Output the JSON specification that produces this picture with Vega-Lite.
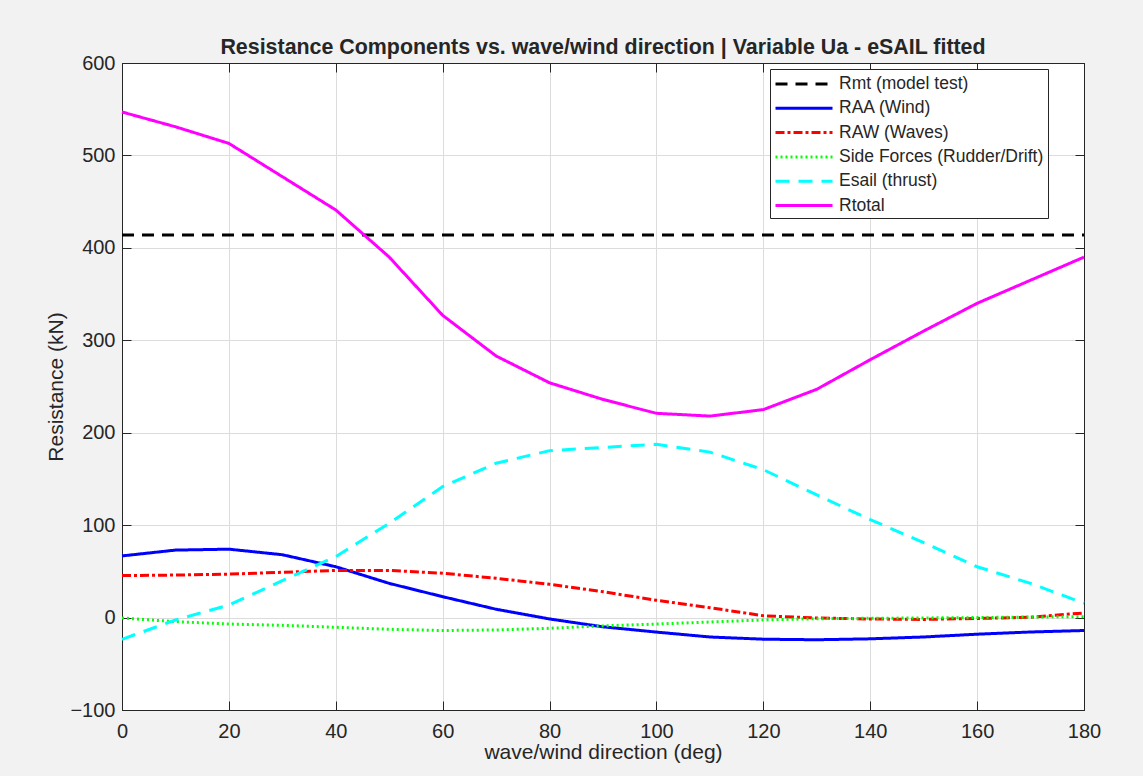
{
  "$schema": "https://vega.github.io/schema/vega-lite/v6.json",
  "width": 962,
  "height": 647,
  "autosize": {"type": "none"},
  "padding": {"left": 122, "top": 63, "right": 59, "bottom": 66},
  "background": "#f2f2f2",
  "title": {
    "text": "Resistance Components vs. wave/wind direction | Variable Ua - eSAIL fitted",
    "font": "Liberation Sans",
    "fontSize": 21.4,
    "fontWeight": "bold",
    "color": "#262626",
    "anchor": "middle",
    "offset": -5
  },
  "config": {
    "view": {"stroke": "#262626", "strokeWidth": 1, "fill": "white"},
    "axis": {
      "labelFont": "Liberation Sans",
      "titleFont": "Liberation Sans",
      "labelFontSize": 20,
      "titleFontSize": 21,
      "titleFontWeight": "normal",
      "labelColor": "#262626",
      "titleColor": "#262626",
      "domainColor": "#262626",
      "tickColor": "#262626",
      "tickSize": -9,
      "gridColor": "#dcdcdc",
      "gridWidth": 1,
      "labelFlush": false,
      "labelOverlap": false
    },
    "legend": {
      "labelFont": "Liberation Sans",
      "labelFontSize": 17.5,
      "labelColor": "#262626",
      "labelLimit": 400
    }
  },
  "data": {
    "values": [
      {"dir": 0, "series": "Rmt  (model test)", "value": 414},
      {"dir": 180, "series": "Rmt  (model test)", "value": 414},
      {"dir": 0, "series": "RAA  (Wind)", "value": 66.7},
      {"dir": 10, "series": "RAA  (Wind)", "value": 73},
      {"dir": 20, "series": "RAA  (Wind)", "value": 74},
      {"dir": 30, "series": "RAA  (Wind)", "value": 68},
      {"dir": 40, "series": "RAA  (Wind)", "value": 55},
      {"dir": 50, "series": "RAA  (Wind)", "value": 37},
      {"dir": 60, "series": "RAA  (Wind)", "value": 22.6},
      {"dir": 70, "series": "RAA  (Wind)", "value": 9},
      {"dir": 80, "series": "RAA  (Wind)", "value": -1.5},
      {"dir": 90, "series": "RAA  (Wind)", "value": -10},
      {"dir": 100, "series": "RAA  (Wind)", "value": -15.7},
      {"dir": 110, "series": "RAA  (Wind)", "value": -21},
      {"dir": 120, "series": "RAA  (Wind)", "value": -23.4},
      {"dir": 130, "series": "RAA  (Wind)", "value": -24},
      {"dir": 140, "series": "RAA  (Wind)", "value": -23},
      {"dir": 150, "series": "RAA  (Wind)", "value": -21},
      {"dir": 160, "series": "RAA  (Wind)", "value": -18},
      {"dir": 170, "series": "RAA  (Wind)", "value": -15.6},
      {"dir": 180, "series": "RAA  (Wind)", "value": -14},
      {"dir": 0, "series": "RAW  (Waves)", "value": 45.4},
      {"dir": 10, "series": "RAW  (Waves)", "value": 46},
      {"dir": 20, "series": "RAW  (Waves)", "value": 47},
      {"dir": 30, "series": "RAW  (Waves)", "value": 49},
      {"dir": 40, "series": "RAW  (Waves)", "value": 51},
      {"dir": 50, "series": "RAW  (Waves)", "value": 51},
      {"dir": 60, "series": "RAW  (Waves)", "value": 48},
      {"dir": 70, "series": "RAW  (Waves)", "value": 42.5},
      {"dir": 80, "series": "RAW  (Waves)", "value": 36},
      {"dir": 90, "series": "RAW  (Waves)", "value": 28},
      {"dir": 100, "series": "RAW  (Waves)", "value": 18.7},
      {"dir": 110, "series": "RAW  (Waves)", "value": 10.7},
      {"dir": 120, "series": "RAW  (Waves)", "value": 2},
      {"dir": 130, "series": "RAW  (Waves)", "value": -0.5},
      {"dir": 140, "series": "RAW  (Waves)", "value": -1.5},
      {"dir": 150, "series": "RAW  (Waves)", "value": -2},
      {"dir": 160, "series": "RAW  (Waves)", "value": -1},
      {"dir": 170, "series": "RAW  (Waves)", "value": 0.3},
      {"dir": 180, "series": "RAW  (Waves)", "value": 5},
      {"dir": 0, "series": "Side Forces (Rudder/Drift)", "value": -0.5},
      {"dir": 10, "series": "Side Forces (Rudder/Drift)", "value": -4.4},
      {"dir": 20, "series": "Side Forces (Rudder/Drift)", "value": -7},
      {"dir": 30, "series": "Side Forces (Rudder/Drift)", "value": -8.4},
      {"dir": 40, "series": "Side Forces (Rudder/Drift)", "value": -10.5},
      {"dir": 50, "series": "Side Forces (Rudder/Drift)", "value": -12.7},
      {"dir": 60, "series": "Side Forces (Rudder/Drift)", "value": -14},
      {"dir": 70, "series": "Side Forces (Rudder/Drift)", "value": -13.4},
      {"dir": 80, "series": "Side Forces (Rudder/Drift)", "value": -11.6},
      {"dir": 90, "series": "Side Forces (Rudder/Drift)", "value": -9},
      {"dir": 100, "series": "Side Forces (Rudder/Drift)", "value": -7},
      {"dir": 110, "series": "Side Forces (Rudder/Drift)", "value": -4.8},
      {"dir": 120, "series": "Side Forces (Rudder/Drift)", "value": -2.6},
      {"dir": 130, "series": "Side Forces (Rudder/Drift)", "value": -1.2},
      {"dir": 140, "series": "Side Forces (Rudder/Drift)", "value": -0.8},
      {"dir": 150, "series": "Side Forces (Rudder/Drift)", "value": -0.4},
      {"dir": 160, "series": "Side Forces (Rudder/Drift)", "value": 0},
      {"dir": 170, "series": "Side Forces (Rudder/Drift)", "value": 0.6},
      {"dir": 180, "series": "Side Forces (Rudder/Drift)", "value": 1},
      {"dir": 0, "series": "Esail  (thrust)", "value": -23.5},
      {"dir": 10, "series": "Esail  (thrust)", "value": -2.6},
      {"dir": 20, "series": "Esail  (thrust)", "value": 13.6},
      {"dir": 30, "series": "Esail  (thrust)", "value": 40},
      {"dir": 40, "series": "Esail  (thrust)", "value": 66},
      {"dir": 50, "series": "Esail  (thrust)", "value": 102},
      {"dir": 60, "series": "Esail  (thrust)", "value": 141.7},
      {"dir": 70, "series": "Esail  (thrust)", "value": 167},
      {"dir": 80, "series": "Esail  (thrust)", "value": 180.6},
      {"dir": 90, "series": "Esail  (thrust)", "value": 184},
      {"dir": 100, "series": "Esail  (thrust)", "value": 187.5},
      {"dir": 110, "series": "Esail  (thrust)", "value": 179},
      {"dir": 120, "series": "Esail  (thrust)", "value": 160},
      {"dir": 130, "series": "Esail  (thrust)", "value": 132.7},
      {"dir": 140, "series": "Esail  (thrust)", "value": 106},
      {"dir": 150, "series": "Esail  (thrust)", "value": 81},
      {"dir": 160, "series": "Esail  (thrust)", "value": 55},
      {"dir": 170, "series": "Esail  (thrust)", "value": 37},
      {"dir": 180, "series": "Esail  (thrust)", "value": 15.5},
      {"dir": 0, "series": "Rtotal", "value": 547},
      {"dir": 10, "series": "Rtotal", "value": 531},
      {"dir": 20, "series": "Rtotal", "value": 513},
      {"dir": 30, "series": "Rtotal", "value": 477},
      {"dir": 40, "series": "Rtotal", "value": 441},
      {"dir": 50, "series": "Rtotal", "value": 390},
      {"dir": 60, "series": "Rtotal", "value": 327},
      {"dir": 70, "series": "Rtotal", "value": 283},
      {"dir": 80, "series": "Rtotal", "value": 254},
      {"dir": 90, "series": "Rtotal", "value": 236},
      {"dir": 100, "series": "Rtotal", "value": 221},
      {"dir": 110, "series": "Rtotal", "value": 218},
      {"dir": 120, "series": "Rtotal", "value": 225},
      {"dir": 130, "series": "Rtotal", "value": 247},
      {"dir": 140, "series": "Rtotal", "value": 279},
      {"dir": 150, "series": "Rtotal", "value": 310},
      {"dir": 160, "series": "Rtotal", "value": 340},
      {"dir": 170, "series": "Rtotal", "value": 365},
      {"dir": 180, "series": "Rtotal", "value": 390}
    ]
  },
  "layer": [
    {
      "mark": {"type": "line", "strokeCap": "butt"},
      "encoding": {
        "x": {
          "field": "dir",
          "type": "quantitative",
          "scale": {"domain": [0, 180], "nice": false},
          "axis": {
            "values": [0, 20, 40, 60, 80, 100, 120, 140, 160, 180],
            "title": "wave/wind direction (deg)",
            "labelPadding": 20,
            "titlePadding": 0,
            "grid": true
          }
        },
        "y": {
          "field": "value",
          "type": "quantitative",
          "scale": {"domain": [-100, 600], "nice": false},
          "axis": {
            "values": [-100, 0, 100, 200, 300, 400, 500, 600],
            "title": "Resistance (kN)",
            "labelPadding": 16,
            "titlePadding": 3,
            "grid": true
          }
        },
        "color": {
          "field": "series",
          "type": "nominal",
          "scale": {
            "domain": ["Rmt  (model test)", "RAA  (Wind)", "RAW  (Waves)", "Side Forces (Rudder/Drift)", "Esail  (thrust)", "Rtotal"],
            "range": ["#000000", "#0000ff", "#ff0000", "#00ff00", "#00ffff", "#ff00ff"]
          },
          "legend": {
            "title": null,
            "orient": "none",
            "legendX": 648,
            "legendY": 6,
            "fillColor": "white",
            "strokeColor": "#262626",
            "padding": 4,
            "symbolType": "M-1,0H5",
            "symbolSize": 361,
            "rowPadding": 4.3,
            "labelOffset": 43
          }
        },
        "strokeDash": {
          "field": "series",
          "type": "nominal",
          "scale": {
            "domain": ["Rmt  (model test)", "RAA  (Wind)", "RAW  (Waves)", "Side Forces (Rudder/Drift)", "Esail  (thrust)", "Rtotal"],
            "range": [[12, 8], [1, 0], [9, 3, 3, 3], [2, 3], [14, 9], [1, 0]]
          }
        },
        "strokeWidth": {
          "field": "series",
          "type": "nominal",
          "scale": {
            "domain": ["Rmt  (model test)", "RAA  (Wind)", "RAW  (Waves)", "Side Forces (Rudder/Drift)", "Esail  (thrust)", "Rtotal"],
            "range": [3, 3, 3, 3, 3, 4]
          }
        }
      }
    },
    {
      "mark": {"type": "line", "opacity": 0},
      "encoding": {
        "x": {
          "field": "dir",
          "type": "quantitative",
          "axis": {
            "orient": "top",
            "values": [0, 20, 40, 60, 80, 100, 120, 140, 160, 180],
            "labels": false,
            "title": null,
            "grid": false
          }
        },
        "y": {
          "field": "value",
          "type": "quantitative",
          "axis": {
            "orient": "right",
            "values": [-100, 0, 100, 200, 300, 400, 500, 600],
            "labels": false,
            "title": null,
            "grid": false
          }
        },
        "detail": {"field": "series"}
      }
    }
  ],
  "resolve": {"axis": {"x": "independent", "y": "independent"}}
}
